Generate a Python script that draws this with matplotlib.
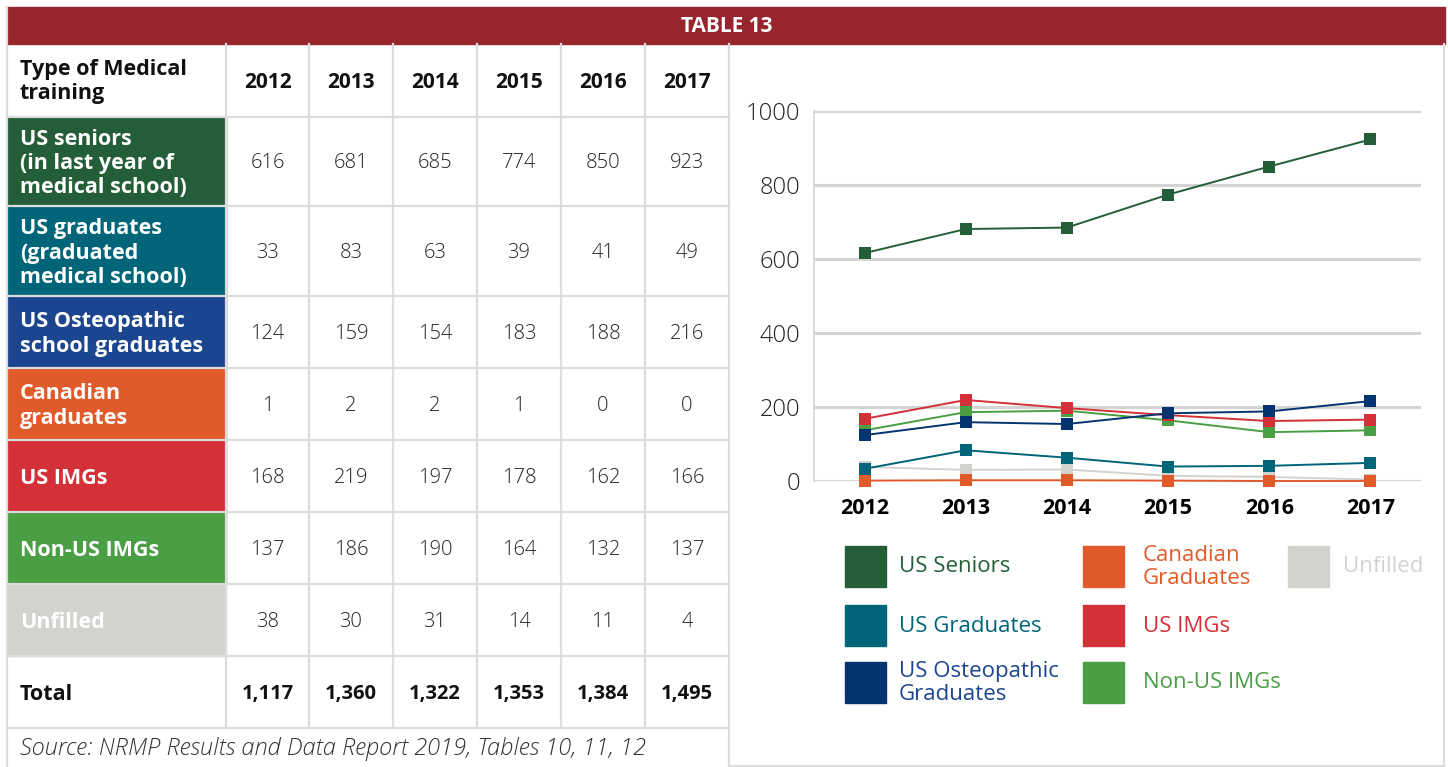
import numpy as np
import matplotlib.pyplot as plt
from matplotlib.patches import Rectangle

plt.rcParams['font.family'] = ['Open Sans', 'DejaVu Sans']

years = ['2012', '2013', '2014', '2015', '2016', '2017']
us_seniors = [616, 681, 685, 774, 850, 923]
us_graduates = [33, 83, 63, 39, 41, 49]
us_osteo = [124, 159, 154, 183, 188, 216]
canadian = [1, 2, 2, 1, 0, 0]
us_imgs = [168, 219, 197, 178, 162, 166]
non_us_imgs = [137, 186, 190, 164, 132, 137]
unfilled = [38, 30, 31, 14, 11, 4]

row_labels = ['US seniors\n(in last year of\nmedical school)',
              'US graduates\n(graduated\nmedical school)',
              'US Osteopathic\nschool graduates',
              'Canadian\ngraduates',
              'US IMGs',
              'Non-US IMGs',
              'Unfilled']
legend_labels = ['US Seniors', 'US Graduates', 'US Osteopathic\nGraduates',
                 'Canadian\nGraduates', 'US IMGs', 'Non-US IMGs', 'Unfilled']
series = [us_seniors, us_graduates, us_osteo, canadian, us_imgs, non_us_imgs, unfilled]
cell_colors = ['#245e38', '#006578', '#1c4590', '#e05a2a', '#d33038', '#4a9e44', '#d3d2cf']
line_colors = ['#245e38', '#006578', '#04346f', '#e05a2a', '#d33038', '#4a9e44', '#d3d2cf']
totals = np.sum(series, axis=0)

W, H = 1448, 767
fig = plt.figure(figsize=(W / 100, H / 100), dpi=100)
base = fig.add_axes([0, 0, 1, 1])
base.set_xlim(0, W)
base.set_ylim(H, 0)
base.axis('off')

grid_c = '#dcdcdc'
# header bar
base.add_patch(Rectangle((7, 7), 1438, 37, color='#98242e'))
base.text(727, 26, 'TABLE 13', color='white', fontsize=15, fontweight='bold',
          ha='center', va='center')

# table layout
col_edges = [7, 226, 309, 393, 477, 561, 645, 729]
row_edges = [44, 117, 206, 296, 368, 440, 512, 584, 656, 728, 767]
lab_fs = 15.5

for i, c in enumerate(cell_colors):
    y0, y1 = row_edges[i + 1], row_edges[i + 2]
    base.add_patch(Rectangle((7, y0), 219, y1 - y0, color=c))
    base.text(20, (y0 + y1) / 2 + 2, row_labels[i], color='white', fontsize=lab_fs,
              fontweight='bold', ha='left', va='center', linespacing=1.2)
    for j, v in enumerate(series[i]):
        xc = (col_edges[j + 1] + col_edges[j + 2]) / 2
        base.text(xc, (y0 + y1) / 2 + 2, str(v), color='#222222', fontsize=14.5,
                  fontweight='light', ha='center', va='center')

# header row
base.text(20, (44 + 117) / 2 + 1, 'Type of Medical\ntraining', fontsize=lab_fs,
          fontweight='bold', ha='left', va='center', color='#111111', linespacing=1.2)
for j, yr in enumerate(years):
    xc = (col_edges[j + 1] + col_edges[j + 2]) / 2
    base.text(xc, (44 + 117) / 2 + 2, yr, fontsize=15, fontweight='bold',
              ha='center', va='center', color='#111111')

# total row
base.text(20, (656 + 728) / 2 + 2, 'Total', fontsize=lab_fs, fontweight='bold',
          ha='left', va='center', color='#111111')
for j, t in enumerate(totals):
    xc = (col_edges[j + 1] + col_edges[j + 2]) / 2
    base.text(xc, (656 + 728) / 2 + 2, f'{t:,}', fontsize=14.5, fontweight='bold',
              ha='center', va='center', color='#111111')

base.text(20, 749, 'Source: NRMP Results and Data Report 2019, Tables 10, 11, 12',
          fontsize=17, fontstyle='italic', fontweight='light', color='#333333',
          ha='left', va='center')

# grid lines of the table
for y in row_edges[1:-1]:
    base.plot([7, 729], [y, y], color=grid_c, lw=1.6, zorder=3)
for x in col_edges[1:-1]:
    base.plot([x, x], [44, 728], color=grid_c, lw=1.6, zorder=3)
base.plot([7, 7], [7, 767], color=grid_c, lw=1.6, zorder=3)
base.plot([729, 729], [44, 767], color=grid_c, lw=1.6, zorder=3)
base.plot([1444, 1444], [44, 767], color=grid_c, lw=1.6, zorder=3)
base.plot([729, 1444], [766, 766], color=grid_c, lw=1.6, zorder=3)

# line chart
ax = fig.add_axes([814 / W, 1 - 481 / H, 607 / W, 370 / H])
x = np.arange(len(years))
order = [6, 5, 4, 2, 1, 3, 0]
for k in order:
    ax.plot(x, series[k], color=line_colors[k], lw=1.4, marker='s', markersize=8.5,
            markeredgewidth=0, clip_on=False, zorder=3)
ax.set_xlim(-0.5, 5.5)
ax.set_ylim(0, 1000)
ax.set_yticks([0, 200, 400, 600, 800, 1000])
ax.set_xticks(x)
ax.set_xticklabels(years, fontsize=15.5, fontweight='bold')
ax.tick_params(axis='y', labelsize=17, length=0, pad=10, labelcolor='#222222')
ax.tick_params(axis='x', length=0, pad=12)
for lbl in ax.get_yticklabels():
    lbl.set_fontweight('light')
ax.grid(axis='y', color='#d4d4d4', lw=2.2)
ax.set_axisbelow(True)
for s in ['top', 'right', 'bottom']:
    ax.spines[s].set_visible(False)
ax.spines['left'].set_color('#d4d4d4')
ax.spines['left'].set_linewidth(1.2)

# legend
leg_pos = [(845, 546), (845, 605), (845, 662), (1083, 546), (1083, 605), (1083, 662), (1288, 546)]
text_x = {845: 899, 1083: 1143, 1288: 1343}
for k, (lx, ly) in enumerate(leg_pos):
    base.add_patch(Rectangle((lx, ly), 41, 41, color=line_colors[k]))
    tc = '#1c4590' if k == 2 else line_colors[k]
    base.text(text_x[lx], ly + 21, legend_labels[k], color=tc, fontsize=16,
              ha='left', va='center', linespacing=1.15)

fig.savefig('out.png', dpi=100)
